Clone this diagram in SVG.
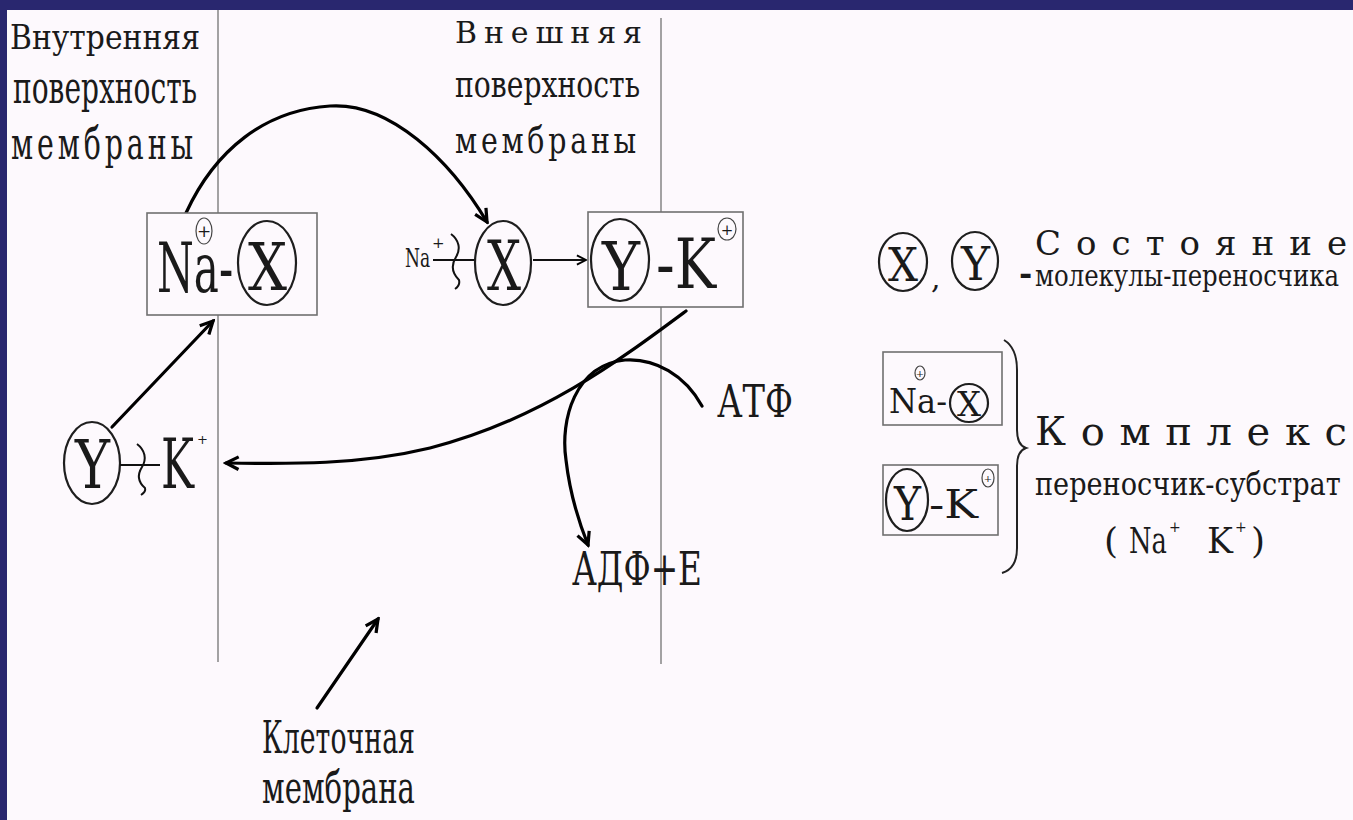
<svg xmlns="http://www.w3.org/2000/svg" width="1353" height="820" viewBox="0 0 1353 820">
<style>
.t{font-family:"DejaVu Serif","Liberation Serif",serif;fill:#1a1a1a}
.mem{stroke:#8c8c8c;stroke-width:1.6;fill:none}
.box{fill:#fdf9fd;stroke:#707070;stroke-width:1.6}
.ell{fill:none;stroke:#1e1e1e;stroke-width:2.2}
.cp{fill:none;stroke:#444;stroke-width:1.2}
.con{fill:none;stroke:#000;stroke-width:3.2;stroke-linecap:round}
.thin{fill:none;stroke:#111;stroke-width:2}
</style>
<defs>
<marker id="ah" viewBox="0 0 20 20" refX="17" refY="10" markerWidth="18" markerHeight="18" markerUnits="userSpaceOnUse" orient="auto">
<path d="M3,3 L17,10 L3,17" fill="none" stroke="#000" stroke-width="3.6" stroke-linejoin="miter"/>
</marker>
<marker id="ahs" viewBox="0 0 20 20" refX="17" refY="10" markerWidth="13" markerHeight="13" markerUnits="userSpaceOnUse" orient="auto">
<path d="M3,3 L17,10 L3,17" fill="none" stroke="#000" stroke-width="3" stroke-linejoin="miter"/>
</marker>
</defs>
<rect width="1353" height="820" fill="#29276f"/>
<rect x="7" y="10" width="1346" height="810" fill="#fdf9fd"/>

<g id="membranes">
<line class="mem" x1="218" y1="10" x2="218" y2="662"/>
<line class="mem" x1="661" y1="18" x2="661" y2="664"/>
</g>

<g id="labels">
<text class="t" x="10" y="49" font-size="34" textLength="190" lengthAdjust="spacingAndGlyphs">Внутренняя</text>
<text class="t" x="13" y="103" font-size="44" textLength="184" lengthAdjust="spacingAndGlyphs">поверхность</text>
<text class="t" x="11" y="159" font-size="44" textLength="186" lengthAdjust="spacingAndGlyphs" letter-spacing="6">мембраны</text>
<text class="t" x="455" y="43" font-size="30" textLength="187" lengthAdjust="spacing">Внешняя</text>
<text class="t" x="455" y="97" font-size="38" textLength="185" lengthAdjust="spacingAndGlyphs">поверхность</text>
<text class="t" x="455" y="153" font-size="38" textLength="185" lengthAdjust="spacingAndGlyphs" letter-spacing="5">мембраны</text>
<text class="t" x="262" y="753" font-size="44" textLength="153" lengthAdjust="spacingAndGlyphs">Клеточная</text>
<text class="t" x="262" y="803" font-size="44" textLength="153" lengthAdjust="spacingAndGlyphs">мембрана</text>
</g>

<g id="connectors">
<path class="con" d="M186,213 C215,150 265,110 330,106 C390,102 450,160 487,222" marker-end="url(#ah)"/>
<path class="con" d="M112,427 L213,321" marker-end="url(#ah)"/>
<path class="thin" d="M533,260 L586,260" marker-end="url(#ahs)"/>
<path class="con" d="M686,311 C620,360 540,420 430,448 C360,465 290,464 226,463" marker-end="url(#ah)"/>
<path class="con" d="M702,406 C685,375 655,358 625,360 C575,365 560,420 566,460 C570,495 578,520 588,545" marker-end="url(#ah)"/>
<path class="con" d="M317,708 L378,619" marker-end="url(#ah)"/>
</g>

<g id="node-na-x">
<rect class="box" x="147" y="213" width="170" height="102"/>
<text class="t" transform="translate(157,292) scale(0.63,1)" x="0" y="0" font-size="70" textLength="121" lengthAdjust="spacingAndGlyphs">Na-</text>
<ellipse class="cp" cx="204" cy="231" rx="8" ry="13"/>
<text class="t" x="204" y="237" font-size="17" text-anchor="middle">+</text>
<ellipse class="ell" cx="267" cy="263" rx="29" ry="42"/>
<text class="t" x="248" y="290" font-size="66" textLength="39" lengthAdjust="spacingAndGlyphs">X</text>
</g>

<g id="node-na-plus-x">
<text class="t" transform="translate(405,267) scale(0.7,1)" x="0" y="0" font-size="26" textLength="36" lengthAdjust="spacingAndGlyphs">Na</text>
<text class="t" x="432" y="248" font-size="15">+</text>
<line class="thin" x1="433" y1="260" x2="475" y2="260"/>
<path class="thin" d="M451,234 C459,240 461,249 456,257 C451,265 452,273 459,280 C460,284 458,287 455,289"/>
<ellipse class="ell" cx="503" cy="263" rx="28" ry="42"/>
<text class="t" x="487" y="290" font-size="70" textLength="34" lengthAdjust="spacingAndGlyphs">X</text>
</g>

<g id="node-y-k">
<rect class="box" x="588" y="212" width="155" height="95"/>
<ellipse class="ell" cx="620" cy="260" rx="29" ry="41"/>
<text class="t" x="602" y="290" font-size="68" textLength="38" lengthAdjust="spacingAndGlyphs">Y</text>
<text class="t" transform="translate(656,288) scale(0.77,1)" x="0" y="0" font-size="70" textLength="78" lengthAdjust="spacingAndGlyphs">-K</text>
<ellipse class="cp" cx="727" cy="229" rx="9" ry="11"/>
<text class="t" x="727" y="235" font-size="15" text-anchor="middle">+</text>
</g>

<g id="node-y-plus-k">
<ellipse class="ell" cx="92" cy="463" rx="28" ry="41"/>
<text class="t" x="75" y="488" font-size="68" textLength="35" lengthAdjust="spacingAndGlyphs">Y</text>
<line class="thin" x1="120" y1="465" x2="160" y2="465"/>
<path class="thin" d="M137,444 C145,450 147,459 142,467 C137,475 138,482 145,488 C146,491 144,493 141,495"/>
<text class="t" transform="translate(161,488) scale(0.6,1)" x="0" y="0" font-size="70" textLength="55" lengthAdjust="spacingAndGlyphs">K</text>
<text class="t" x="197" y="444" font-size="13">+</text>
</g>

<g id="node-atp">
<text class="t" x="717" y="417" font-size="45" textLength="76" lengthAdjust="spacingAndGlyphs">АТФ</text>
</g>

<g id="node-adp">
<text class="t" x="572" y="585" font-size="47" textLength="130" lengthAdjust="spacingAndGlyphs">АДФ+Е</text>
</g>

<g id="legend-states">
<ellipse class="ell" cx="903" cy="262" rx="24" ry="29"/>
<text class="t" x="888" y="281" font-size="47" textLength="30" lengthAdjust="spacingAndGlyphs">X</text>
<text class="t" x="931" y="288" font-size="30">,</text>
<ellipse class="ell" cx="975" cy="261" rx="23" ry="29"/>
<text class="t" x="961" y="280" font-size="47" textLength="29" lengthAdjust="spacingAndGlyphs">Y</text>
<text class="t" x="1019" y="284" font-size="32" font-weight="bold">-</text>
<text class="t" x="1035" y="255" font-size="34" textLength="312" lengthAdjust="spacing">Состояние</text>
<text class="t" transform="translate(1035,286) scale(0.76,1)" x="0" y="0" font-size="30" textLength="400" lengthAdjust="spacingAndGlyphs">молекулы-переносчика</text>
</g>

<g id="legend-complex">
<rect class="box" x="883" y="352" width="119" height="73"/>
<text class="t" x="889" y="413" font-size="34" textLength="58" lengthAdjust="spacingAndGlyphs">Na-</text>
<ellipse class="cp" cx="920" cy="373" rx="5" ry="7"/>
<text class="t" x="920" y="377" font-size="10" text-anchor="middle">+</text>
<ellipse class="ell" cx="969" cy="403" rx="19" ry="19"/>
<text class="t" x="957" y="416" font-size="34" textLength="24" lengthAdjust="spacingAndGlyphs">X</text>
<rect class="box" x="883" y="465" width="115" height="70"/>
<ellipse class="ell" cx="907" cy="500" rx="21" ry="31"/>
<text class="t" x="894" y="520" font-size="47" textLength="27" lengthAdjust="spacingAndGlyphs">Y</text>
<text class="t" x="929" y="518" font-size="40" textLength="49" lengthAdjust="spacingAndGlyphs">-K</text>
<ellipse class="cp" cx="988" cy="478" rx="6" ry="9"/>
<text class="t" x="988" y="482" font-size="10" text-anchor="middle">+</text>
<path d="M1004,340 C1014,346 1017,356 1017,370 L1017,430 C1017,440 1020,446 1026,448 C1020,450 1017,456 1017,466 L1017,548 C1017,562 1012,570 1002,573" fill="none" stroke="#222" stroke-width="2"/>
<text class="t" x="1035" y="445" font-size="40" textLength="312" lengthAdjust="spacing">Комплекс</text>
<text class="t" transform="translate(1035,495) scale(0.84,1)" x="0" y="0" font-size="32" textLength="364" lengthAdjust="spacingAndGlyphs">переносчик-субстрат</text>
<text class="t" x="1104" y="553" font-size="36">(</text>
<text class="t" transform="translate(1129,553) scale(0.76,1)" x="0" y="0" font-size="36" textLength="50" lengthAdjust="spacingAndGlyphs">Na</text>
<text class="t" x="1169" y="532" font-size="14">+</text>
<text class="t" transform="translate(1207,553) scale(0.7,1)" x="0" y="0" font-size="36" textLength="37" lengthAdjust="spacingAndGlyphs">K</text>
<text class="t" x="1235" y="532" font-size="14">+</text>
<text class="t" x="1251" y="553" font-size="36">)</text>
</g>
</svg>
